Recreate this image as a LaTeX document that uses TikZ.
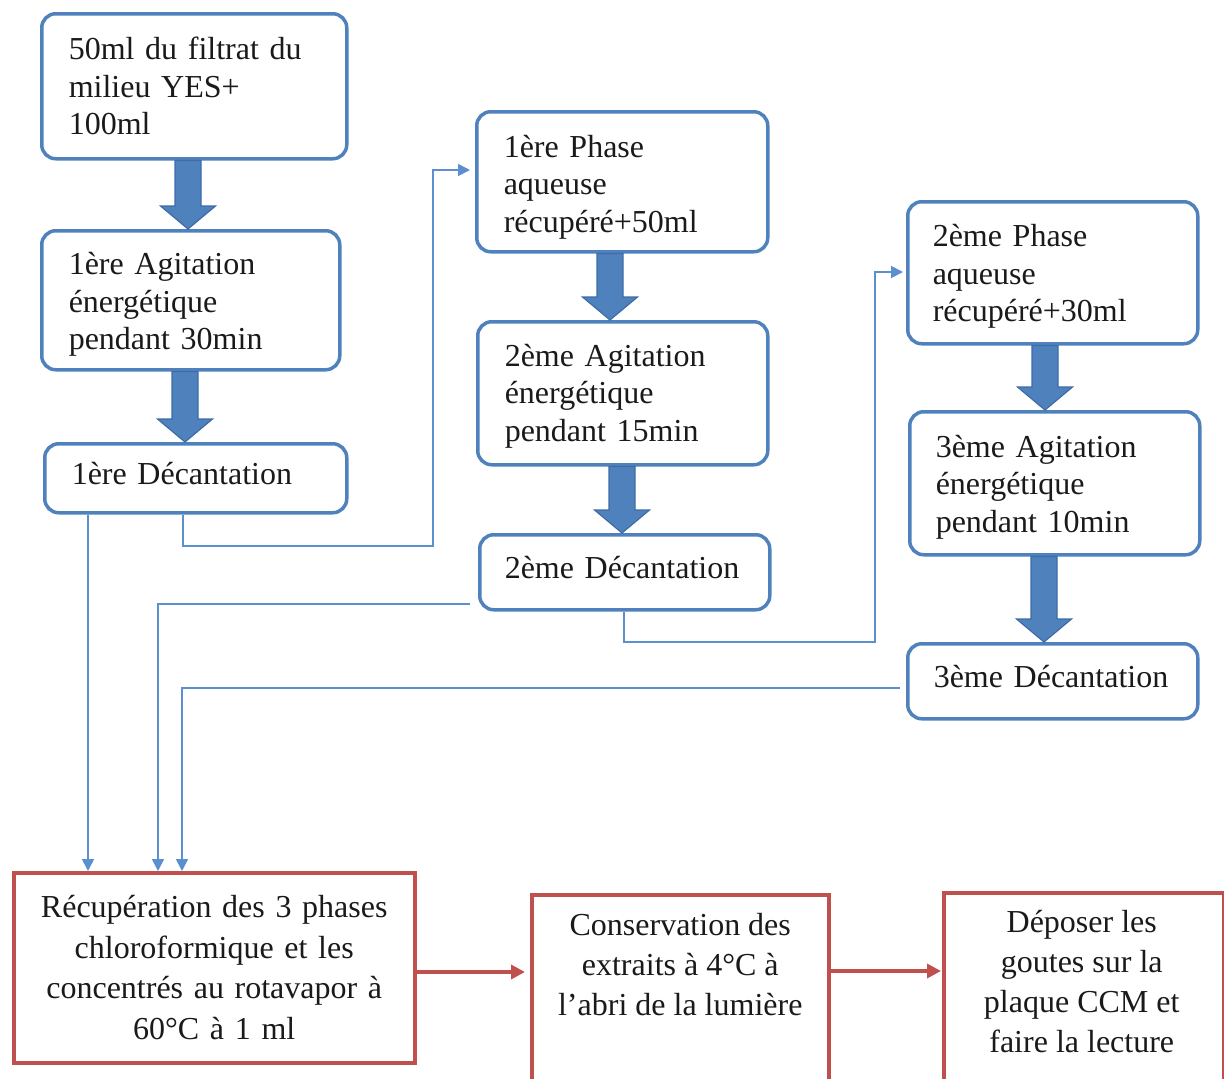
\documentclass[tikz,border=0pt]{standalone}
\usepackage{fontspec}
\setmainfont{Liberation Serif}
\usetikzlibrary{arrows.meta,calc}
\definecolor{bluebd}{HTML}{4F81BD}
\definecolor{bluedk}{HTML}{3D6CA8}
\definecolor{bluethin}{HTML}{5B8FD0}
\definecolor{redbd}{HTML}{C0504D}
\definecolor{txt}{HTML}{1A1A1A}
\tikzset{
  bluebox/.style={draw=bluebd, line width=3.5pt, rounded corners=14pt, fill=white,
    anchor=north west, align=left, inner xsep=27pt, inner ysep=0pt,
    font=\fontsize{32}{37.5}\selectfont, text=txt},
  redbox/.style={draw=redbd, line width=3.5pt, fill=white, anchor=north west,
    align=center, inner xsep=6pt, inner ysep=0pt,
    font=\fontsize{32}{40.5}\selectfont, text=txt},
  redtext/.style={align=center, inner sep=0pt, anchor=north,
    font=\fontsize{32}{40}\selectfont, text=txt},
  bigarrow/.style={fill=bluebd, draw=bluedk, line width=1.2pt, line join=miter},
  conn/.style={draw=bluethin, line width=1.8pt, -{Triangle[length=12pt,width=12pt]}},
  redarrow/.style={draw=redbd, line width=3.5pt, -{Triangle[length=14pt,width=14pt]}}
}
\newcommand\blockarrow[3]{%
  \filldraw[bigarrow] let \p1=(#2.south), \p2=(#3.north) in
    ({#1pt-13pt},\y1) -- ({#1pt+13pt},\y1) -- ({#1pt+13pt},\y2+23pt) --
    ({#1pt+27.5pt},\y2+23pt) -- ({#1pt},\y2) -- ({#1pt-27.5pt},\y2+23pt) --
    ({#1pt-13pt},\y2+23pt) -- cycle;}
\newcommand\topst[1]{\rule{0pt}{#1pt}}
\newcommand\botst{\rule[-10pt]{0pt}{10pt}}
\begin{document}
\begin{tikzpicture}[x=1pt,y=-1pt]
\useasboundingbox (0,0) rectangle (1224,1079);

% column 1
\node[bluebox, minimum width=305pt, minimum height=145pt, text width=251pt] (b1) at (40,12)
  {50ml du filtrat du\\milieu YES+\\100ml};
\node[bluebox, minimum width=298pt, minimum height=139pt, text width=244pt] (b2) at (40,229)
  {\topst{31}1ère Agitation\\énergétique\\pendant 30min};
\node[bluebox, minimum width=302pt, minimum height=69pt, text width=248pt] (b3) at (43,442)
  {1ère Décantation\botst};

% column 2
\node[bluebox, minimum width=291pt, minimum height=140pt, text width=237pt] (b4) at (475,110)
  {\topst{33}1ère Phase\\aqueuse\\récupéré+50ml};
\node[bluebox, minimum width=290pt, minimum height=143pt, text width=236pt] (b5) at (476,320)
  {\topst{28}2ème Agitation\\énergétique\\pendant 15min};
\node[bluebox, minimum width=290pt, minimum height=75pt, text width=240pt, inner xsep=25pt] (b6) at (478,533)
  {2ème Décantation\botst};

% column 3
\node[bluebox, minimum width=290pt, minimum height=142pt, text width=240pt, inner xsep=25pt] (b7) at (906,200)
  {\topst{30}2ème Phase\\aqueuse\\récupéré+30ml};
\node[bluebox, minimum width=290pt, minimum height=143pt, text width=238pt, inner xsep=26pt] (b8) at (908,410)
  {\topst{30}3ème Agitation\\énergétique\\pendant 10min};
\node[bluebox, minimum width=290pt, minimum height=75pt, text width=238pt, inner xsep=26pt] (b9) at (906,642)
  {3ème Décantation\botst};

% bottom red boxes
\node[redbox, minimum width=401pt, minimum height=190pt, text width=389pt] (r1) at (12,871)
  {Récupération des 3 phases\\chloroformique et les\\concentrés au rotavapor à\\60°C à 1 ml};
\node[redbox, minimum width=297pt, minimum height=260pt] (r2) at (530,893) {};
\node[redtext] (r2t) at ($(r2.north)+(0,20)$)
  {Conservation des\\extraits à 4°C à\\l’abri de la lumière};
\node[redbox, minimum width=280pt, minimum height=260pt] (r3) at (942,891) {};
\node[redtext] (r3t) at ($(r3.north)+(-2,19)$)
  {Déposer les\\goutes sur la\\plaque CCM et\\faire la lecture};

% thick block arrows
\blockarrow{188}{b1}{b2}
\blockarrow{185}{b2}{b3}
\blockarrow{610}{b4}{b5}
\blockarrow{622}{b5}{b6}
\blockarrow{1045}{b7}{b8}
\blockarrow{1044}{b8}{b9}

% thin connectors
\draw[conn] (88,0 |- b3.south) -- (88,0 |- r1.north);
\draw[conn, shorten >=5pt] (183,0 |- b3.south) -- (183,546) -- (433,546) -- (433,170) -- (b4.west |- 0,170);
\draw[conn, shorten <=8pt] (b6.west |- 0,604) -| (158,0 |- r1.north);
\draw[conn, shorten >=3pt] (624,0 |- b6.south) -- (624,642) -- (875,642) -- (875,272) -- (b7.west |- 0,272);
\draw[conn, shorten <=6pt] (b9.west |- 0,688) -| (182,0 |- r1.north);

% red arrows
\draw[redarrow, shorten >=5pt] (r1.east |- 0,972) -- (r2.west |- 0,972);
\draw[redarrow, shorten >=1pt] (r2.east |- 0,971) -- (r3.west |- 0,971);
\end{tikzpicture}
\end{document}
